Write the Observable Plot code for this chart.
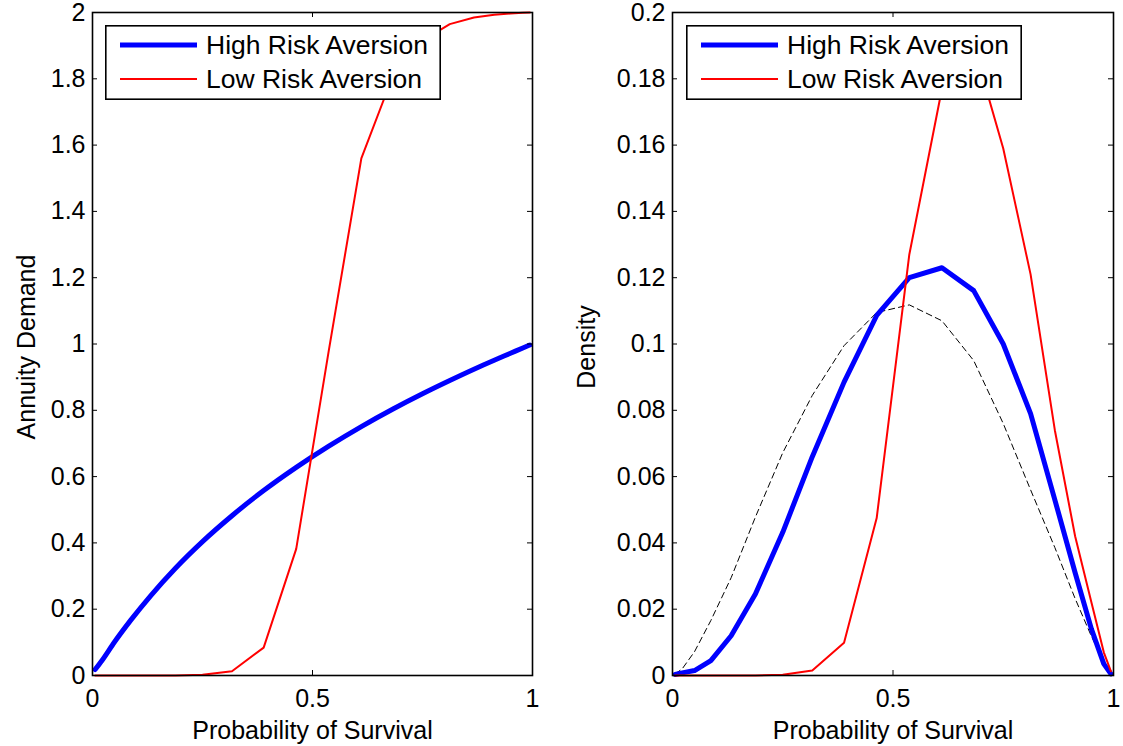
<!DOCTYPE html>
<html>
<head>
<meta charset="utf-8">
<script src="https://cdn.jsdelivr.net/npm/d3@7"></script>
<script src="https://cdn.jsdelivr.net/npm/@observablehq/plot@0.6"></script>
<style>
  body { margin: 0; background: #fff; }
  #wrap { position: relative; width: 1123px; height: 746px; overflow: hidden; background: #fff; }
  .panel { position: absolute; top: 0; }
  .legend { position: absolute; }
</style>
</head>
<body>
<div id="wrap"></div>
<script>
// ---------- data ----------
const survival = [0.006, 0.022, 0.05, 0.087, 0.133, 0.188, 0.25, 0.317, 0.389, 0.463,
                  0.537, 0.611, 0.683, 0.75, 0.812, 0.867, 0.913, 0.95, 0.978, 0.994];

// Left panel: Annuity Demand
const demandHigh = [0.018, 0.046, 0.101, 0.167, 0.242, 0.323, 0.404, 0.482, 0.558, 0.628,
                    0.692, 0.751, 0.804, 0.850, 0.890, 0.924, 0.951, 0.972, 0.988, 0.997];
const demandLow  = [0, 0, 0, 0, 0, 0, 0.002, 0.013, 0.084, 0.382,
                    0.98, 1.56, 1.81, 1.915, 1.965, 1.985, 1.993, 1.997, 1.999, 2.0];

// Right panel: Density
const densityHigh = [0.0003, 0.0008, 0.0015, 0.0045, 0.012, 0.0246, 0.0432, 0.066, 0.0885, 0.1086,
                     0.120, 0.123, 0.1161, 0.100, 0.079, 0.053, 0.031, 0.014, 0.0035, 0.0005];
const densityLow  = [0, 0, 0, 0, 0, 0, 0.0002, 0.0015, 0.0099, 0.0475,
                     0.127, 0.177, 0.19, 0.159, 0.121, 0.074, 0.042, 0.022, 0.007, 0.0013];
const densityPrior = [0.0005, 0.002, 0.0072, 0.0166, 0.0295, 0.0478, 0.0672, 0.0845, 0.0995, 0.1095,
                      0.1118, 0.107, 0.095, 0.076, 0.056, 0.0386, 0.0232, 0.0118, 0.004, 0.0007];

const xTicks = [0, 0.5, 1];
const xTickLabels = ["0", "0.5", "1"];
const yTicksLeft = [0, 0.2, 0.4, 0.6, 0.8, 1, 1.2, 1.4, 1.6, 1.8, 2];
const yTickLabelsLeft = ["0", "0.2", "0.4", "0.6", "0.8", "1", "1.2", "1.4", "1.6", "1.8", "2"];
const yTicksRight = [0, 0.02, 0.04, 0.06, 0.08, 0.1, 0.12, 0.14, 0.16, 0.18, 0.2];
const yTickLabelsRight = ["0", "0.02", "0.04", "0.06", "0.08", "0.1", "0.12", "0.14", "0.16", "0.18", "0.2"];

const xTitle = "Probability of Survival";
const yTitleLeft = "Annuity Demand";
const yTitleRight = "Density";
const legendLabels = ["High Risk Aversion", "Low Risk Aversion"];

// ---------- drawing ----------
const FONT = '"Liberation Sans", Arial, Helvetica, sans-serif';
const FS = 25;
const H = 746, MT = 12, MB = 71;
const tickLen = 5;

function rows(ys) { return survival.map((x, i) => ({x, y: ys[i]})); }

function panel({left, width, mL, mR, yDomain, yTicks, yLabels, yTitle, yTitleDx, lines}) {
  const pw = width - mL - mR, ph = H - MT - MB;
  const chart = Plot.plot({
    width, height: H,
    marginLeft: mL, marginRight: mR, marginTop: MT, marginBottom: MB,
    style: {fontFamily: FONT, fontSize: FS + "px", color: "black", background: "white", overflow: "visible"},
    x: {domain: [0, 1]},
    y: {domain: yDomain},
    marks: [
      ...lines,
      Plot.tickY(yTicks, {y: d => d, insetRight: pw - tickLen, stroke: "black", strokeWidth: 1}),
      Plot.tickY(yTicks, {y: d => d, insetLeft: pw - tickLen, stroke: "black", strokeWidth: 1}),
      Plot.tickX(xTicks, {x: d => d, insetTop: ph - tickLen, stroke: "black", strokeWidth: 1}),
      Plot.tickX(xTicks, {x: d => d, insetBottom: ph - tickLen, stroke: "black", strokeWidth: 1}),
      Plot.frame({stroke: "black", strokeWidth: 1.6}),
      Plot.axisY({ticks: yTicks, tickSize: 0, tickPadding: 7, label: null, fontSize: FS,
                  tickFormat: d => yLabels[yTicks.indexOf(d)]}),
      Plot.axisX({ticks: xTicks, tickSize: 0, tickPadding: 14, label: null, fontSize: FS,
                  tickFormat: d => xTickLabels[xTicks.indexOf(d)]}),
      Plot.text([xTitle], {frameAnchor: "bottom", dy: 55, textAnchor: "middle", lineAnchor: "middle", fontSize: FS, fill: "black"}),
      Plot.text([yTitle], {frameAnchor: "left", dx: yTitleDx, dy: 3, rotate: -90, textAnchor: "middle", lineAnchor: "middle", fontSize: FS, fill: "black"})
    ]
  });
  chart.classList.add("panel");
  chart.style.left = left + "px";
  return chart;
}

function legend(left, top) {
  const w = 336, h = 75;
  const svg = d3.create("svg").attr("class", "legend").attr("width", w).attr("height", h)
    .style("left", left + "px").style("top", top + "px");
  svg.append("rect").attr("x", 0.8).attr("y", 0.8).attr("width", w - 1.6).attr("height", h - 1.6)
    .attr("fill", "white").attr("stroke", "black").attr("stroke-width", 1.6);
  const styles = [{stroke: "#0000ff", sw: 5, cy: 20}, {stroke: "#ff0000", sw: 2, cy: 54}];
  legendLabels.forEach((lab, i) => {
    const s = styles[i];
    svg.append("line").attr("x1", 15).attr("x2", 92).attr("y1", s.cy).attr("y2", s.cy)
      .attr("stroke", s.stroke).attr("stroke-width", s.sw);
    svg.append("text").attr("x", 101).attr("y", s.cy + 9).text(lab)
      .attr("font-family", FONT).attr("font-size", 26.5).attr("fill", "black");
  });
  return svg.node();
}

const wrap = document.getElementById("wrap");

wrap.appendChild(panel({
  left: 0, width: 560, mL: 92, mR: 28,
  yDomain: [0, 2], yTicks: yTicksLeft, yLabels: yTickLabelsLeft,
  yTitle: yTitleLeft, yTitleDx: -66,
  lines: [
    Plot.line(rows(demandHigh), {x: "x", y: "y", stroke: "#0000ff", strokeWidth: 5, curve: "monotone-x"}),
    Plot.line(rows(demandLow), {x: "x", y: "y", stroke: "#ff0000", strokeWidth: 2})
  ]
}));

wrap.appendChild(panel({
  left: 560, width: 563, mL: 112, mR: 10,
  yDomain: [0, 0.2], yTicks: yTicksRight, yLabels: yTickLabelsRight,
  yTitle: yTitleRight, yTitleDx: -86,
  lines: [
    Plot.line(rows(densityPrior), {x: "x", y: "y", stroke: "black", strokeWidth: 1, strokeDasharray: "6,4"}),
    Plot.line(rows(densityHigh), {x: "x", y: "y", stroke: "#0000ff", strokeWidth: 5}),
    Plot.line(rows(densityLow), {x: "x", y: "y", stroke: "#ff0000", strokeWidth: 2})
  ]
}));

wrap.appendChild(legend(105, 25));
wrap.appendChild(legend(686, 25));
</script>
</body>
</html>
